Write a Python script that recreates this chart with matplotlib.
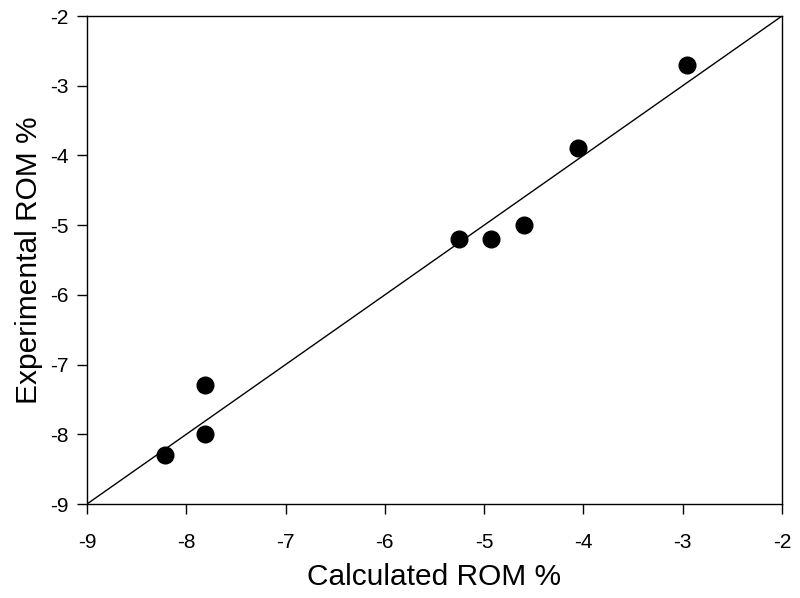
import matplotlib
matplotlib.use("Agg")
import matplotlib.pyplot as plt

calc = [-8.21, -7.81, -7.81, -5.25, -4.93, -4.60, -4.05, -2.96]
exper = [-8.30, -7.30, -8.00, -5.20, -5.20, -5.00, -3.90, -2.70]
line_x = [-9, -2]
line_y = [-9, -2]
ticks = [-9, -8, -7, -6, -5, -4, -3, -2]
tick_labels = ['-9', '-8', '-7', '-6', '-5', '-4', '-3', '-2']

plt.rcParams['font.family'] = ['Liberation Sans', 'DejaVu Sans']
fig = plt.figure(figsize=(8.0, 5.98), dpi=100)
ax = fig.add_axes([87/800, 1-504/598, (782-87)/800, (504-16)/598])
ax.plot(line_x, line_y, color='black', lw=1.0)
ax.plot(calc, exper, 'o', color='black', markersize=12, zorder=3)
ax.set_xlim(-9, -2)
ax.set_ylim(-9, -2)
ax.set_xticks(ticks)
ax.set_xticklabels(tick_labels)
ax.set_yticks(ticks)
ax.set_yticklabels(tick_labels)
ax.tick_params(direction='out', length=7, width=1, labelsize=15)
ax.tick_params(axis='x', pad=14)
ax.tick_params(axis='y', pad=6)
for s in ax.spines.values():
    s.set_linewidth(1.0)
ax.set_xlabel('Calculated ROM %', fontsize=21.5, labelpad=8)
ax.set_ylabel('Experimental ROM %', fontsize=21.5, labelpad=5)
fig.savefig('out.png', dpi=100)
